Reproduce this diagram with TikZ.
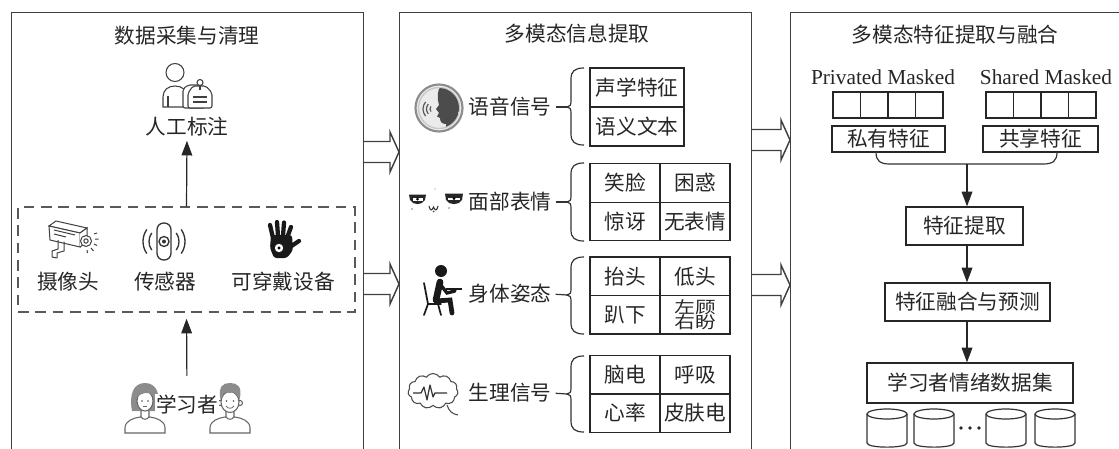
\documentclass[tikz,border=0pt]{standalone}
\usepackage{fontspec}
\usepackage{graphicx}
\setmainfont{Liberation Serif}
\newfontfamily\cjk{Noto Sans CJK SC}
\usetikzlibrary{calc,arrows.meta,shapes.symbols}
\newlength\pxu \setlength\pxu{0.75pt}

\tikzset{
  panel/.style={draw=black!75, line width=0.9pt, minimum width=352\pxu, minimum height=480\pxu, anchor=north west, inner sep=0},
  lbl/.style={font=\cjk\fontsize{15.5}{18}\selectfont, text=black!85, inner sep=0},
  en/.style={font=\fontsize{16}{18}\selectfont, text=black!85, inner sep=0},
  cell/.style={draw=black!85, line width=0.9pt, inner sep=0, font=\cjk\fontsize{15.5}{18}\selectfont, text=black!85},
  cellA/.style={cell, minimum width=70\pxu, minimum height=38.5\pxu},
  cellW/.style={cell, minimum width=94\pxu, minimum height=39\pxu},
  mask/.style={draw=black!85, line width=0.9pt, minimum width=27.5\pxu, minimum height=26\pxu, inner sep=0},
  flow/.style={draw=black!85, line width=0.9pt, -{Triangle[length=11pt,width=8pt]}},
  harrow/.style={draw=black!75, line width=1.1pt, fill=white, line join=miter},
  dashbox/.style={draw=black!65, line width=1pt, dash pattern=on 8pt off 5pt, minimum width=337\pxu, minimum height=105\pxu, inner sep=0},
  icon/.style={draw=black!75, line width=0.8pt},
  tick/.style={draw=black!80, line width=0.9pt},
}

% left curly brace: spine at x=571, top #1, middle #2, bottom #3
\newcommand\curlybr[3]{%
  \draw[tick] (584,#1) .. controls (575,#1) and (571,#1+3) .. (571,#1+11)
    -- (571,#2-6) .. controls (571,#2-2) and (570,#2) .. (567,#2)
    .. controls (570,#2) and (571,#2+2) .. (571,#2+6)
    -- (571,#3-11) .. controls (571,#3-3) and (575,#3) .. (584,#3);}

% hollow block arrow between two panels at height #3
\newcommand\harrowpath[3]{%
  \draw[harrow] ($(#1.east |- 0,#3)+(0,-10.5)$) -- ($(#2.west |- 0,#3)+(-9,-10.5)$)
    -- ($(#2.west |- 0,#3)+(-9,-20)$) -- (#2.west |- 0,#3)
    -- ($(#2.west |- 0,#3)+(-9,20)$) -- ($(#2.west |- 0,#3)+(-9,10.5)$)
    -- ($(#1.east |- 0,#3)+(0,10.5)$);}

\begin{document}
\begin{tikzpicture}[x=0.75pt, y=-0.75pt]
\useasboundingbox (0,0) rectangle (1119,449);
\clip (0,0) rectangle (1119,449);

% ---------- panels ----------
\node[panel] (P1) at (11,12) {};
\node[panel] (P2) at (399,12) {};
\node[panel] (P3) at (790,12) {};

\harrowpath{P1}{P2}{152}
\harrowpath{P1}{P2}{284}
\harrowpath{P2}{P3}{140}
\harrowpath{P2}{P3}{285}

% ---------- data collection ----------
\node[lbl] (t1) at (187,36) {数据采集与清理};

% annotator icon
\begin{scope}[icon]
  \draw (175,72.5) circle[radius=9];
  \draw (163,107) -- (163,97) .. controls (163,90) and (168,86) .. (175,86) .. controls (182,86) and (187,90) .. (187,97) -- (187,107) -- cycle;
  \draw (168,96) -- (168,107);
  \filldraw[fill=white, rounded corners=1.5pt] (183,89) -- (188,85) -- (200,85) -- (205,89) -- (205,108) -- (183,108) -- cycle;
  \filldraw[fill=white, rounded corners=1.5pt] (188,93) -- (193,86) -- (206,86) -- (212,93) -- (212,108) -- (188,108) -- cycle;
  \filldraw[fill=white] (200,82.5) circle[radius=3];
  \draw (200,85.5) -- (200,90);
  \draw (193,97) -- (207,97) (193,102) -- (207,102);
\end{scope}
\node[lbl] (anno) at (187,127) {人工标注};

\node[dashbox] (dev) at (186.5,259.5) {};
\draw[flow, shorten >=4\pxu] (dev.north) -- (anno.south);

% camera
\begin{scope}[icon, line width=0.75pt]
  \filldraw[fill=white] (49,226) -- (56,221) -- (87,228) -- (80,233) -- cycle;
  \filldraw[fill=white] (49,226) -- (80,233) -- (80,247) -- (50,240) -- cycle;
  \filldraw[fill=white] (80,233) -- (87,228) -- (87,242) -- (80,247);
  \draw (54,230) -- (75,235) (54,234) -- (66,237);
  \filldraw[fill=white] (86,241) circle[radius=5.5];
  \draw (86,241) circle[radius=2.2];
  \draw (58,240) -- (58,249) -- (52,251) -- (52,257) (64,241.5) -- (64,251) -- (57,253) -- (57,258);
  \draw (52,257) -- (57,258);
  \draw (94,234) -- (97,233) (95,239) -- (98.5,239) (94,244) -- (97,245.5) (91,248) -- (93.5,251) (87,250) -- (87.5,253);
\end{scope}
% sensor
\begin{scope}[icon, line width=1pt, draw=black!80]
  \draw[rounded corners=5pt] (157,223) rectangle (171,260);
  \draw (164,241.5) circle[radius=5];
  \fill[black!80] (164,241.5) circle[radius=2];
  \draw ([shift={(145:15)}]164,241.5) arc[start angle=145, end angle=215, radius=15];
  \draw ([shift={(145:21)}]164,241.5) arc[start angle=145, end angle=215, radius=21];
  \draw ([shift={(-35:15)}]164,241.5) arc[start angle=-35, end angle=35, radius=15];
  \draw ([shift={(-35:21)}]164,241.5) arc[start angle=-35, end angle=35, radius=21];
\end{scope}
% wearable glove
\begin{scope}[draw=black!90, line cap=round, line width=3.2pt]
  \draw (273,238) -- (270,225);
  \draw (278,236) -- (277,222);
  \draw (283,236) -- (284,222.5);
  \draw (287,238) -- (291,227);
  \draw (290,247) -- (299,241);
\end{scope}
\fill[black!90, rounded corners=2pt] (271,235) -- (292,235) -- (293,250) -- (287,258) -- (274,258) -- (270,248) -- cycle;
\fill[white] (279,248) circle[radius=4.2];
\fill[black] (279,248) circle[radius=1.6];

\node[lbl] (cam) at (68,282) {摄像头};
\node[lbl] (sen) at (165,282) {传感器};
\node[lbl] (wear) at (283,282) {可穿戴设备};

% learners
\begin{scope}[draw=black!60, line width=0.8pt]
  % left learner
  \filldraw[fill=white] (125,433) -- (125,428) .. controls (125,421) and (133,418) .. (140,417) -- (150,417) .. controls (157,418) and (165,421) .. (165,428) -- (165,433) -- cycle;
  \filldraw[fill=white] (141,408) -- (141,417) .. controls (143,420) and (147,420) .. (149,417) -- (149,408);
  \fill[black!45] (132,411) .. controls (129,395) and (133,383) .. (145,383) .. controls (157,383) and (161,395) .. (158,411) -- cycle;
  \filldraw[fill=white] (145,401) ellipse[x radius=8, y radius=10];
  \fill[black!45] (136.5,398) .. controls (138,388) and (151,386) .. (153.5,396) .. controls (149,391) and (142,392) .. (136.5,398) -- cycle;
  \fill[black!70] (142,401) circle[radius=0.9] (148,401) circle[radius=0.9];
  \draw[line width=0.6pt] (143,406) -- (147,406);
  % right learner
  \filldraw[fill=white] (210,433) -- (210,428) .. controls (210,421) and (218,418) .. (225,417) -- (235,417) .. controls (242,418) and (250,421) .. (250,428) -- (250,433) -- cycle;
  \filldraw[fill=white] (226,410) -- (226,417) .. controls (228,420) and (232,420) .. (234,417) -- (234,410);
  \filldraw[fill=white] (220,403) circle[radius=2.5] (240,403) circle[radius=2.5];
  \filldraw[fill=white] (230,402) ellipse[x radius=9, y radius=10.5];
  \fill[black!45] (220.5,400) .. controls (218,386) and (223,383) .. (230,383) .. controls (237,383) and (243,386) .. (239.5,400) .. controls (238,393) and (233,391) .. (230,393) .. controls (226,391) and (222,393) .. (220.5,400) -- cycle;
  \fill[black!70] (226.5,401) circle[radius=0.9] (233.5,401) circle[radius=0.9];
  \draw[line width=0.6pt] (226,406) .. controls (228,409) and (232,409) .. (234,406);
\end{scope}
\node[lbl, fill=white, inner sep=1pt] (lrn) at (187,405) {学习者};
\draw[flow, shorten <=18\pxu, shorten >=6\pxu] (lrn.north) -- (dev.south);

% ---------- multimodal information ----------
\node[lbl] (t2) at (577,34) {多模态信息提取};

% speech icon
\fill[black!8] (439,108) circle[radius=24];
\draw[black!45, line width=1.6pt] (439,108) circle[radius=23.5];
\draw[black!22, line width=1pt] (439,108) circle[radius=20.5];
\begin{scope}
  \clip (439,108) circle[radius=20];
  \fill[black!70] (441,86) .. controls (452,84) and (463,93) .. (460,108) -- (457,119) -- (460,132) -- (446,132) -- (446,124)
    .. controls (442,124) and (440,122) .. (440,118) -- (437,116.5) -- (439,113) -- (436,109) -- (439,105)
    .. controls (437,98) and (437,90) .. (441,86) -- cycle;
\end{scope}
\begin{scope}[draw=black!65, line width=0.9pt]
  \draw ([shift={(140:4)}]434,109) arc[start angle=140, end angle=220, radius=4];
  \draw ([shift={(140:7.5)}]434,109) arc[start angle=140, end angle=220, radius=7.5];
  \draw ([shift={(140:11)}]434,109) arc[start angle=140, end angle=220, radius=11];
\end{scope}
\node[lbl] (sp) at (510,107) {语音信号};
\node[cellW] (sp1) at (637,87.5) {声学特征};
\node[cellW] (sp2) at (637,126.5) {语义文本};
\coordinate (bsp) at (567,107);
\curlybr{68}{107}{145}
\draw[tick, shorten <=4\pxu] (sp.east) -- (bsp);

% facial expression icon
\fill[black!85] (409,194.5) -- (426,194.5) -- (425,200) .. controls (422,205.5) and (413,205.5) .. (410,200) -- cycle;
\fill[white] (412.5,198) rectangle (423,200.5);
\fill[black] (417.5,199.2) circle[radius=1.5];
\fill[black!85] (445,193.5) -- (463,193.5) -- (462,200) .. controls (459,205.5) and (449,205.5) .. (446,200) -- cycle;
\fill[white] (448,197.5) rectangle (460,200);
\fill[black] (454,198.7) circle[radius=1.5];
\draw[black!80, line width=0.8pt] (429,206) .. controls (430,211) and (432,211) .. (433.5,207) .. controls (435,211) and (437,211) .. (438,206);
\fill[black!70] (433.5,211.5) circle[radius=1];
\fill[black!50] (412,209) circle[radius=0.8] (449,208) circle[radius=0.8] (435,189) circle[radius=0.6];
\node[lbl] (fe) at (510,202) {面部表情};
\node[cellA] (fe11) at (625,183) {笑脸};
\node[cellA] (fe12) at (695,183) {困惑};
\node[cellA] (fe21) at (625,221.5) {惊讶};
\node[cellA] (fe22) at (695,221.5) {无表情};
\coordinate (bfe) at (567,202);
\curlybr{163}{202}{241}
\draw[tick, shorten <=4\pxu] (fe.east) -- (bfe);

% body posture icon
\begin{scope}[draw=black!90, line cap=round]
  \fill[black!90] (441,271) circle[radius=6];
  \draw[line width=5pt] (440,282) -- (436,300);
  \draw[line width=3.6pt] (436,301) -- (450,300) -- (452,313);
  \draw[line width=2.5pt] (440,284) -- (447,293) -- (455,291);
  \draw[line width=1.2pt, line cap=butt] (446,289) -- (462,289);
  \draw[line width=1.3pt] (424,283) -- (428,304) -- (441,304);
  \draw[line width=1.3pt] (428,304) -- (424,315) (438,304) -- (441,315);
\end{scope}
\node[lbl] (po) at (510,294) {身体姿态};
\node[cellA] (po11) at (625,276.25) {抬头};
\node[cellA] (po12) at (695,276.25) {低头};
\node[cellA] (po21) at (625,314.75) {趴下};
\node[cellA] (po22) at (695,314.75) {\scalebox{1}[0.8]{\shortstack{左顾\\[-3pt]右盼}}};
\coordinate (bpo) at (567,295);
\curlybr{257}{295}{334}
\draw[tick, shorten <=4\pxu] (po.east) -- (bpo);

% physiological signal icon
\node[cloud, cloud puffs=11, cloud puff arc=115, aspect=1.45, draw=black!70, line width=0.8pt,
      minimum width=50\pxu, minimum height=35\pxu, inner sep=0] (brain) at (433,391) {};
\draw[black!70, line width=0.8pt] (447,405) .. controls (449,411) and (452,414) .. (458,415);
\draw[black!80, line width=0.9pt, line join=round] (413,393) -- (421,393) -- (424,387) -- (427,400) -- (430,385) -- (433,397) -- (435,393) -- (447,393);
\node[lbl] (ph) at (510,393) {生理信号};
\node[cellA] (ph11) at (625,375) {脑电};
\node[cellA] (ph12) at (695,375) {呼吸};
\node[cellA] (ph21) at (625,413) {心率};
\node[cellA] (ph22) at (695,413) {皮肤电};
\coordinate (bph) at (567,394);
\curlybr{356}{394}{432}
\draw[tick, shorten <=4\pxu] (ph.east) -- (bph);

% ---------- feature extraction and fusion ----------
\node[lbl] (t3) at (955,35) {多模态特征提取与融合};
\node[en] (pm) at (883,77) {Privated Masked};
\node[en] (sm) at (1046,77) {Shared Masked};
\foreach \i in {0,...,3} {
  \node[mask] (pmc\i) at (846.75+27.5*\i,105) {};
  \node[mask] (smc\i) at (999.75+27.5*\i,105) {};
}
\node[cell, minimum width=113\pxu, minimum height=26\pxu] (pf) at (888.5,139) {私有特征};
\node[cell, minimum width=115\pxu, minimum height=26\pxu] (sf) at (1040.5,139) {共享特征};

\coordinate (mL) at (876,152);
\coordinate (mR) at (1057,152);
\coordinate (mC) at (967,164);
\draw[tick] (mL) .. controls (876,161) and (880,164) .. (890,164) -- (1043,164) .. controls (1053,164) and (1057,161) .. (mR);

\node[cell, minimum width=117\pxu, minimum height=38\pxu] (fx) at (964.5,226) {特征提取};
\node[cell, minimum width=165\pxu, minimum height=38\pxu] (ff) at (967.5,302) {特征融合与预测};
\node[cell, minimum width=206\pxu, minimum height=40\pxu] (ds) at (970,383) {学习者情绪数据集};

\draw[flow] (mC) -- (mC |- fx.north);
\draw[flow] (mC |- fx.south) -- (mC |- ff.north);
\draw[flow] (mC |- ff.south) -- (mC |- ds.north);

% data stores
\foreach \c in {887,934,1006,1055} {
  \draw[black!80, line width=0.9pt] (\c-20,414) -- (\c-20,443) .. controls (\c-20,448.5) and (\c+20,448.5) .. (\c+20,443) -- (\c+20,414);
  \draw[black!80, line width=0.9pt] (\c,414) ellipse[x radius=20, y radius=5];
}
\fill[black!85] (961,428) circle[radius=1.9] (970,428) circle[radius=1.9] (979,428) circle[radius=1.9];

\end{tikzpicture}
\end{document}
